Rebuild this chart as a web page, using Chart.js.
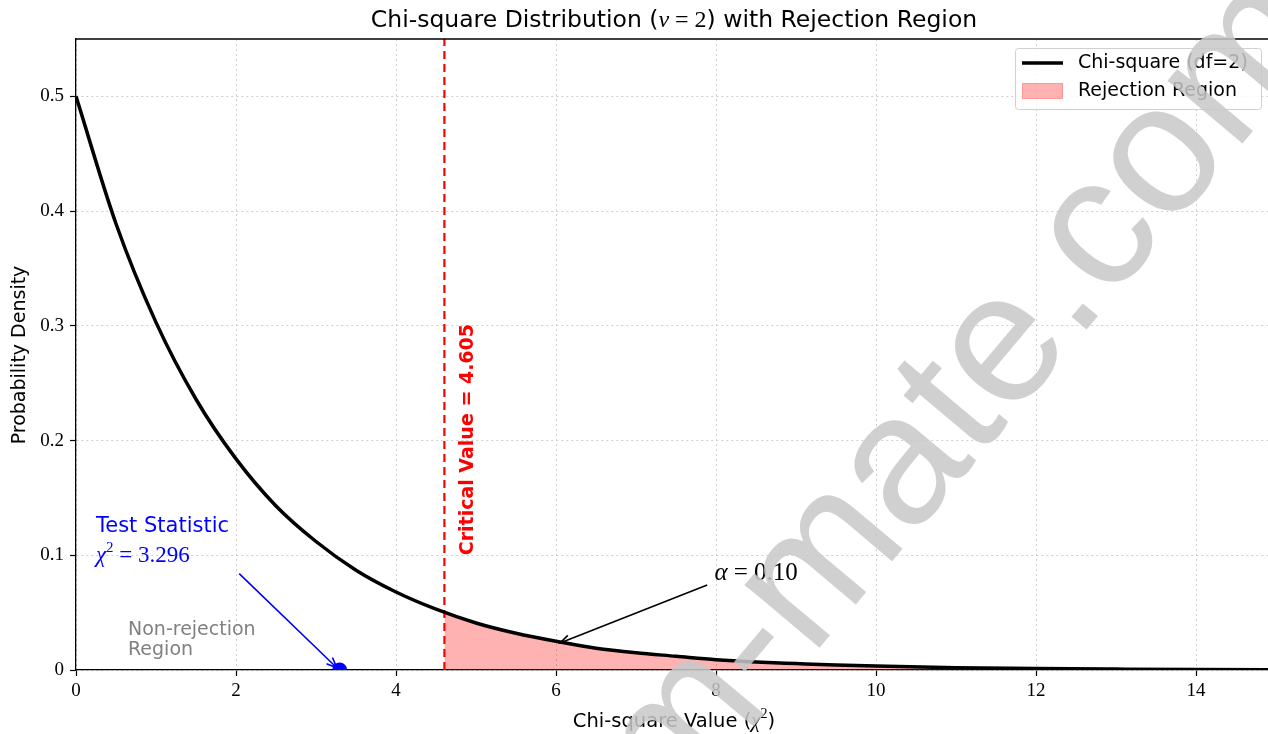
<!DOCTYPE html>
<html>
<head>
<meta charset="utf-8">
<script src="https://cdn.jsdelivr.net/npm/chart.js@4/dist/chart.umd.min.js"></script>
<style>
html, body { margin: 0; padding: 0; background: #fff; overflow: hidden; }
#wrap { width: 1268px; height: 734px; position: relative; }
</style>
</head>
<body>
<div id="wrap"><canvas id="myChart"></canvas></div>
<script>
// values
var chiX = [0, 0.5, 1, 1.5, 2, 2.5, 3, 3.5, 4, 4.5, 5, 5.5, 6, 6.5, 7, 7.5, 8, 8.5, 9, 9.5, 10, 11, 12, 13, 14, 15];
var chiDensity = [0.500, 0.389, 0.303, 0.236, 0.184, 0.143, 0.112, 0.087, 0.068, 0.053, 0.041, 0.032, 0.025, 0.019, 0.015, 0.012, 0.009, 0.007, 0.0056, 0.0043, 0.0034, 0.002, 0.0012, 0.0008, 0.0005, 0.0003];
var rejectX = [4.605, 5, 5.5, 6, 6.5, 7, 7.5, 8, 8.5, 9, 9.5, 10, 11, 12, 13, 14, 15];
var rejectDensity = [0.050, 0.041, 0.032, 0.025, 0.019, 0.015, 0.012, 0.009, 0.007, 0.0056, 0.0043, 0.0034, 0.002, 0.0012, 0.0008, 0.0005, 0.0003];
var criticalValue = 4.605;
var testStatistic = 3.296;
var alphaLevel = 0.10;
var xTicks = [0, 2, 4, 6, 8, 10, 12, 14];
var yTicks = [0, 0.1, 0.2, 0.3, 0.4, 0.5];

var SANS = '"DejaVu Sans", sans-serif';
var SERIF = '"Liberation Serif", serif';

function pts(xs, ys) {
    return xs.map(function (x, i) { return { x: x, y: ys[i] }; });
}

// draw a run of text pieces with different fonts
function drawRich(ctx, parts, x, y, align) {
    var total = 0;
    parts.forEach(function (p) { ctx.font = p.f; p.w = ctx.measureText(p.t).width; total += p.w; });
    var cx = align === 'center' ? x - total / 2 : x;
    ctx.textAlign = 'left';
    ctx.textBaseline = 'alphabetic';
    parts.forEach(function (p) {
        ctx.font = p.f;
        ctx.fillText(p.t, cx, y + (p.dy || 0));
        cx += p.w;
    });
}

function arrow(ctx, x1, y1, x2, y2, color) {
    var ang = Math.atan2(y2 - y1, x2 - x1);
    ctx.save();
    ctx.strokeStyle = color;
    ctx.lineWidth = 1.6;
    ctx.beginPath();
    ctx.moveTo(x1, y1);
    ctx.lineTo(x2, y2);
    ctx.moveTo(x2 - 11 * Math.cos(ang - 0.4), y2 - 11 * Math.sin(ang - 0.4));
    ctx.lineTo(x2, y2);
    ctx.lineTo(x2 - 11 * Math.cos(ang + 0.4), y2 - 11 * Math.sin(ang + 0.4));
    ctx.stroke();
    ctx.restore();
}

var extras = {
    id: 'extras',
    afterDatasetsDraw: function (chart) {
        var ctx = chart.ctx, xs = chart.scales.x, ys = chart.scales.y;
        ctx.save();
        // critical value label
        ctx.save();
        ctx.translate(xs.getPixelForValue(criticalValue + 0.3), ys.getPixelForValue(0.1));
        ctx.rotate(-Math.PI / 2);
        ctx.fillStyle = 'red';
        ctx.font = 'bold 19px ' + SANS;
        ctx.textAlign = 'left';
        ctx.textBaseline = 'middle';
        ctx.fillText('Critical Value = ' + criticalValue.toFixed(3), 0, 0);
        ctx.restore();

        // test statistic
        ctx.fillStyle = 'blue';
        ctx.font = '21px ' + SANS;
        ctx.textAlign = 'left';
        ctx.textBaseline = 'alphabetic';
        ctx.fillText('Test Statistic', xs.getPixelForValue(0.25), 532);
        drawRich(ctx, [
            { t: 'χ', f: 'italic 23px ' + SERIF },
            { t: '2', f: '15px ' + SERIF, dy: -10 },
            { t: ' = ', f: '23px ' + SERIF },
            { t: testStatistic.toFixed(3), f: '23px ' + SERIF }
        ], xs.getPixelForValue(0.25), 562);
        arrow(ctx, xs.getPixelForValue(2.04), ys.getPixelForValue(0.084),
            xs.getPixelForValue(3.26), ys.getPixelForValue(0.002), 'blue');

        // alpha label
        ctx.fillStyle = '#000';
        drawRich(ctx, [
            { t: 'α', f: 'italic 25px ' + SERIF },
            { t: ' = ' + alphaLevel.toFixed(2), f: '25px ' + SERIF }
        ], xs.getPixelForValue(7.98), 580);
        arrow(ctx, xs.getPixelForValue(7.89), ys.getPixelForValue(0.074),
            xs.getPixelForValue(6.05), ys.getPixelForValue(0.0235), '#000');

        // non-rejection label
        ctx.fillStyle = '#808080';
        ctx.font = '19px ' + SANS;
        ctx.textAlign = 'left';
        ctx.fillText('Non-rejection', xs.getPixelForValue(0.65), 635);
        ctx.fillText('Region', xs.getPixelForValue(0.65), 655);
        ctx.restore();
    },
    afterDraw: function (chart) {
        var ctx = chart.ctx, a = chart.chartArea;
        ctx.save();
        // top spine
        ctx.strokeStyle = '#000';
        ctx.lineWidth = 1.3;
        ctx.beginPath();
        ctx.moveTo(a.left, a.top);
        ctx.lineTo(a.right, a.top);
        ctx.stroke();

        // title
        ctx.fillStyle = '#000';
        drawRich(ctx, [
            { t: 'Chi-square Distribution (', f: '23.5px ' + SANS },
            { t: 'ν', f: 'italic 24px ' + SERIF },
            { t: ' = 2', f: '24px ' + SERIF },
            { t: ') with Rejection Region', f: '23.5px ' + SANS }
        ], 674, 27, 'center');

        // axis titles
        drawRich(ctx, [
            { t: 'Chi-square Value (', f: '19.5px ' + SANS },
            { t: 'χ', f: 'italic 21px ' + SERIF },
            { t: '2', f: '14px ' + SERIF, dy: -9 },
            { t: ')', f: '19.5px ' + SANS }
        ], 674, 727, 'center');
        ctx.save();
        ctx.translate(25, 355);
        ctx.rotate(-Math.PI / 2);
        ctx.font = '19px ' + SANS;
        ctx.textAlign = 'center';
        ctx.textBaseline = 'alphabetic';
        ctx.fillText('Probability Density', 0, 0);
        ctx.restore();

        // legend
        var ds = chart.data.datasets;
        ctx.fillStyle = 'rgba(255,255,255,0.8)';
        ctx.strokeStyle = '#d0d0d0';
        ctx.lineWidth = 1;
        ctx.beginPath();
        ctx.roundRect(1015.5, 48.5, 246, 61, 3);
        ctx.fill();
        ctx.stroke();
        ctx.strokeStyle = ds[0].borderColor;
        ctx.lineWidth = 3.5;
        ctx.beginPath();
        ctx.moveTo(1022, 63);
        ctx.lineTo(1063, 63);
        ctx.stroke();
        ctx.fillStyle = ds[1].backgroundColor;
        ctx.fillRect(1022.5, 83.5, 40, 15);
        ctx.strokeStyle = ds[1].backgroundColor;
        ctx.lineWidth = 1;
        ctx.strokeRect(1022.5, 83.5, 40, 15);
        ctx.fillStyle = '#000';
        ctx.font = '19px ' + SANS;
        ctx.textAlign = 'left';
        ctx.textBaseline = 'middle';
        ctx.fillText(ds[0].label, 1078, 63);
        ctx.fillText(ds[1].label, 1078, 91);

        // watermark
        ctx.save();
        ctx.translate(1083, 315);
        ctx.rotate(-50 * Math.PI / 180);
        ctx.font = '185px "Liberation Sans", sans-serif';
        ctx.fillStyle = 'rgba(200,200,200,0.85)';
        ctx.textAlign = 'left';
        ctx.textBaseline = 'alphabetic';
        var pre = ctx.measureText('exam-mate').width;
        var dot = ctx.measureText('.').width;
        ctx.fillText('exam-mate.com', -pre - dot / 2, 12);
        ctx.restore();
        ctx.restore();
    }
};

var ctx1 = document.getElementById('myChart').getContext('2d');
var myChart = new Chart(ctx1, {
    type: 'scatter',
    data: {
        datasets: [{
            label: 'Chi-square (df=2)',
            data: pts(chiX, chiDensity),
            showLine: true,
            borderColor: '#000',
            borderWidth: 3.5,
            pointRadius: 0,
            cubicInterpolationMode: 'monotone',
            order: 1
        }, {
            label: 'Rejection Region',
            data: pts(rejectX, rejectDensity),
            showLine: true,
            borderWidth: 0,
            borderColor: 'rgba(0,0,0,0)',
            backgroundColor: 'rgba(255,0,0,0.3)',
            fill: 'origin',
            pointRadius: 0,
            cubicInterpolationMode: 'monotone',
            order: 4
        }, {
            label: 'Critical',
            data: [{ x: criticalValue, y: 0 }, { x: criticalValue, y: 0.55 }],
            showLine: true,
            borderColor: 'red',
            borderWidth: 2.2,
            borderDash: [8, 5],
            pointRadius: 0,
            order: 3
        }, {
            label: 'Test',
            data: [{ x: testStatistic, y: 0 }],
            pointRadius: 7.5,
            backgroundColor: 'blue',
            borderColor: 'blue',
            borderWidth: 0,
            order: 0
        }]
    },
    options: {
        responsive: true,
        maintainAspectRatio: false,
        animation: false,
        layout: { autoPadding: false, padding: { top: 39, left: 0, right: 0, bottom: 0 } },
        scales: {
            x: {
                type: 'linear',
                min: 0,
                max: 14.9,
                afterBuildTicks: function (s) { s.ticks = xTicks.map(function (v) { return { value: v }; }); },
                afterFit: function (s) { s.height = 64; s.paddingRight = 0; s.paddingLeft = 0; },
                ticks: {
                    padding: 4,
                    color: '#000',
                    font: { family: SERIF, size: 19 },
                    maxRotation: 0,
                    callback: function (v) { return String(v); }
                },
                grid: { color: '#cfcfcf', lineWidth: 1, tickLength: 6, tickColor: '#000', tickWidth: 1.2 },
                border: { color: '#000', width: 1.3, dash: [2, 3] }
            },
            y: {
                min: 0,
                max: 0.55,
                afterBuildTicks: function (s) { s.ticks = yTicks.map(function (v) { return { value: v }; }); },
                afterFit: function (s) { s.width = 76; s.paddingTop = 0; s.paddingBottom = 0; },
                ticks: {
                    padding: 6,
                    color: '#000',
                    font: { family: SERIF, size: 19 },
                    callback: function (v) { return v === 0 ? '0' : v.toFixed(1); }
                },
                grid: { color: '#cfcfcf', lineWidth: 1, tickLength: 6, tickColor: '#000', tickWidth: 1.2 },
                border: { color: '#000', width: 1.3, dash: [2, 3] }
            }
        },
        plugins: {
            legend: { display: false },
            tooltip: { enabled: false }
        }
    },
    plugins: [extras]
});
</script>
</body>
</html>
